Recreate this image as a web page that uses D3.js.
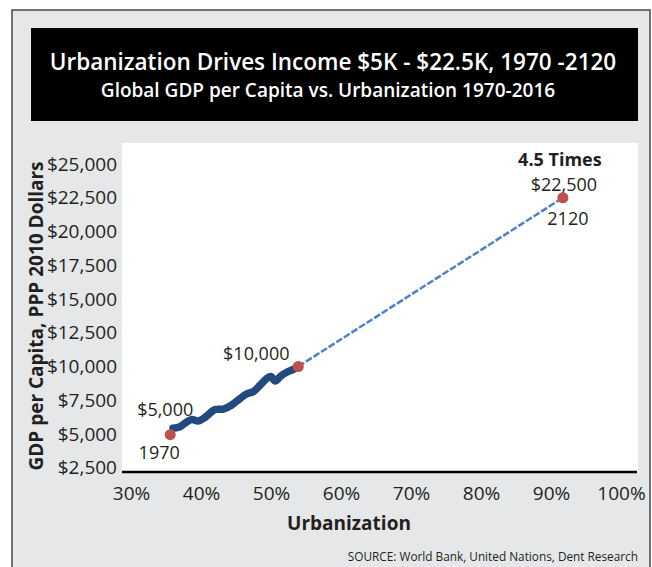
<!DOCTYPE html>
<html>
<head>
<meta charset="utf-8">
<script src="https://cdn.jsdelivr.net/npm/d3@7"></script>
<style>
  body { margin: 0; background: #ffffff; }
  svg { display: block; font-family: "Open Sans", "Noto Sans", sans-serif; }
</style>
</head>
<body>
<script>
// frame dimensions
const FRAME_WIDTH = 652;
const FRAME_HEIGHT = 567;
const PLOT = {left: 122, right: 638, top: 143, bottom: 472};

// tick values
const xTicks = [30, 40, 50, 60, 70, 80, 90, 100];
const yTicks = [2500, 5000, 7500, 10000, 12500, 15000, 17500, 20000, 22500, 25000];

// historic path 1970-2016 (urbanization %, GDP per capita)
const histUrban = [36.0, 37.0, 38.0, 38.7, 39.6, 40.6, 42.0, 43.2, 44.4, 45.6, 46.5, 47.5, 48.4, 49.4, 50.0, 50.6, 51.4, 52.2, 53.2, 53.9];
const histGdp = [5420, 5540, 5910, 6070, 5960, 6240, 6810, 6850, 7150, 7630, 7960, 8150, 8590, 9110, 9260, 8930, 9300, 9560, 9790, 10000];

// projection 2016 -> 2120
const projUrban = [53.9, 91.7];
const projGdp = [10000, 22500];

// highlighted points
const dotUrban = [35.6, 53.9, 91.7];
const dotGdp = [4950, 10000, 22500];

const FRAME = d3.select('body')
  .append('svg')
    .attr('width', FRAME_WIDTH)
    .attr('height', FRAME_HEIGHT);

// grey panel and title box
FRAME.append('rect')
  .attr('x', 12).attr('y', 10)
  .attr('width', 638).attr('height', 570)
  .attr('fill', '#e6e7e8')
  .attr('stroke', '#4a4a4a')
  .attr('stroke-width', 1.5);

FRAME.append('rect')
  .attr('x', 31).attr('y', 28)
  .attr('width', 607).attr('height', 93)
  .attr('fill', '#000000');

FRAME.append('text')
  .attr('x', 333).attr('y', 70)
  .attr('text-anchor', 'middle')
  .attr('fill', '#ffffff')
  .attr('font-size', '22.5px')
  .attr('font-weight', 600)
  .text('Urbanization Drives Income $5K - $22.5K, 1970 -2120');

FRAME.append('text')
  .attr('x', 328).attr('y', 97)
  .attr('text-anchor', 'middle')
  .attr('fill', '#ffffff')
  .attr('font-size', '19px')
  .attr('font-weight', 600)
  .text('Global GDP per Capita vs. Urbanization 1970-2016');

// white plot area
FRAME.append('rect')
  .attr('x', PLOT.left).attr('y', PLOT.top)
  .attr('width', PLOT.right - PLOT.left).attr('height', PLOT.bottom - PLOT.top)
  .attr('fill', '#ffffff');

// scales
const xscale = d3.scaleLinear().domain([30, 100]).range([131, 621]);
const yscale = d3.scaleLinear().domain([2500, 25000]).range([467.75, 164]);

// x axis
FRAME.append('line')
  .attr('x1', PLOT.left).attr('x2', PLOT.right - 1)
  .attr('y1', PLOT.bottom).attr('y2', PLOT.bottom)
  .attr('stroke', '#000').attr('stroke-width', 2.5);

const xAxis = FRAME.append('g')
  .attr('transform', 'translate(0,' + PLOT.bottom + ')')
  .call(d3.axisBottom(xscale).tickValues(xTicks).tickSize(0).tickFormat((d) => d + '%'));
xAxis.select('.domain').remove();
xAxis.selectAll('text')
  .attr('y', 21).attr('dy', '0.35em')
  .attr('font-size', '19px')
  .attr('font-family', '"Open Sans", sans-serif')
  .attr('fill', '#231f20');

// y axis
const yAxis = FRAME.append('g')
  .attr('transform', 'translate(117,0)')
  .call(d3.axisLeft(yscale).tickValues(yTicks).tickSize(0).tickPadding(0)
    .tickFormat((d) => '$' + d3.format(',')(d)));
yAxis.select('.domain').remove();
yAxis.selectAll('text')
  .attr('font-size', '19px')
  .attr('font-family', '"Open Sans", sans-serif')
  .attr('fill', '#231f20');

// axis titles
FRAME.append('text')
  .attr('transform', 'translate(43,316) rotate(-90)')
  .attr('text-anchor', 'middle')
  .attr('font-size', '19px')
  .attr('font-weight', 700)
  .attr('fill', '#231f20')
  .text('GDP per Capita, PPP 2010 Dollars');

FRAME.append('text')
  .attr('x', 349).attr('y', 523).attr('dy', '0.35em')
  .attr('text-anchor', 'middle')
  .attr('font-size', '19px')
  .attr('font-weight', 700)
  .attr('fill', '#231f20')
  .text('Urbanization');

FRAME.append('text')
  .attr('x', 638).attr('y', 557).attr('dy', '0.35em')
  .attr('text-anchor', 'end')
  .attr('font-size', '11.8px')
  .attr('fill', '#231f20')
  .text('SOURCE: World Bank, United Nations, Dent Research');

// projection (dashed)
const projData = projUrban.map((u, i) => ({u: u, g: projGdp[i]}));
FRAME.append('path')
  .datum(projData)
  .attr('fill', 'none')
  .attr('stroke', '#4f81c4')
  .attr('stroke-width', 2.5)
  .attr('stroke-dasharray', '7,2')
  .attr('d', d3.line().x((d) => xscale(d.u)).y((d) => yscale(d.g)));

// historic line
const histData = histUrban.map((u, i) => ({u: u, g: histGdp[i]}));
FRAME.append('path')
  .datum(histData)
  .attr('fill', 'none')
  .attr('stroke', '#234a7e')
  .attr('stroke-width', 7.5)
  .attr('stroke-linejoin', 'round')
  .attr('stroke-linecap', 'round')
  .attr('d', d3.line().curve(d3.curveCatmullRom).x((d) => xscale(d.u)).y((d) => yscale(d.g)));

// red dots
const dots = dotUrban.map((u, i) => ({u: u, g: dotGdp[i]}));
FRAME.selectAll('.dot')
  .data(dots)
  .enter().append('circle')
  .attr('class', 'dot')
  .attr('cx', (d) => xscale(d.u))
  .attr('cy', (d) => yscale(d.g))
  .attr('r', 5.5)
  .attr('fill', '#c0504d');

// annotations
function note(i, dx, dy, txt, bold) {
  FRAME.append('text')
    .attr('x', xscale(dots[i].u) + dx)
    .attr('y', yscale(dots[i].g) + dy)
    .attr('dy', '0.35em')
    .attr('text-anchor', 'middle')
    .attr('font-size', '18px')
    .attr('font-weight', bold ? 700 : 400)
    .attr('fill', '#231f20')
    .text(txt);
}
note(0, -5, -25, '$5,000');
note(0, -11, 18, '1970');
note(1, -42, -13, '$10,000');
note(2, -3, -38, '4.5 Times', true);
note(2, 1, -13, '$22,500');
note(2, 5, 21, '2120');
</script>
</body>
</html>
